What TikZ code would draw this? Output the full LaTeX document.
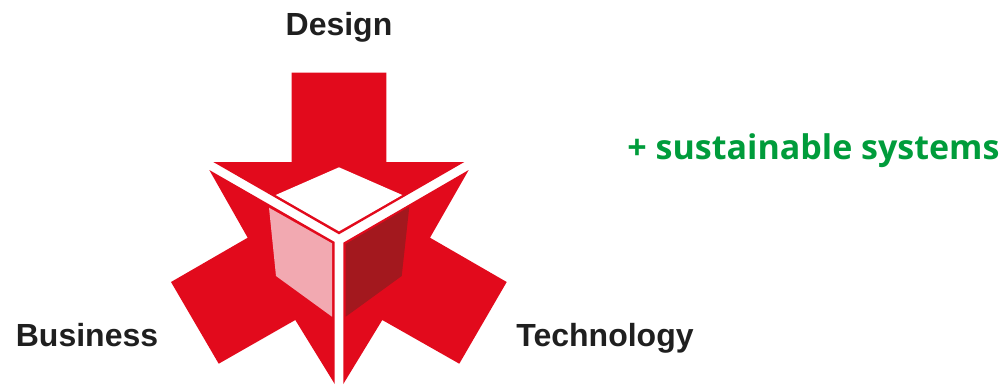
\documentclass[tikz,border=0pt]{standalone}
\usepackage{fontspec}
\setmainfont{Liberation Sans}
\newfontfamily\greenfont{Open Sans}
\definecolor{logored}{HTML}{E20A1C}
\definecolor{logolight}{HTML}{F2A9B1}
\definecolor{logodark}{HTML}{A3181E}
\definecolor{logogreen}{HTML}{009C3B}
\tikzset{
  axislabel/.style={font=\fontsize{32}{36}\selectfont\bfseries, text=black!88, inner sep=0pt, anchor=base},
  claimlabel/.style={font=\fontsize{34}{38}\selectfont\greenfont\bfseries, text=logogreen, inner sep=0pt, anchor=base}
}
\begin{document}
\begin{tikzpicture}[x=1pt, y=-1pt]
            \useasboundingbox (0,0) rectangle (1006,384);

            % Top arrow
            \fill[logored] (291.7,72.7) -- (386.3,72.7) -- (386.3,162) -- (464.3,162) -- (339,234.3) -- (213.3,162) -- (291.7,162) -- cycle;

            % Left arrow
            \fill[logored] (209.3,170) -- (334.7,242) -- (334.7,384) -- (295.3,320) -- (218.7,363.7) -- (171,282) -- (247.7,237.7) -- cycle;

            % Right arrow
            \fill[logored] (468.7,170) -- (343.3,242.7) -- (343.3,384) -- (382.3,320) -- (459.3,363.7) -- (506.7,282) -- (430,237.7) -- cycle;

            % Faces of the cube
            \fill[white] (339,167.3) -- (402.3,195) -- (339,231.3) -- (275.7,195) -- cycle;
            \fill[logolight] (269,207.7) -- (332,243.3) -- (332,316.7) -- (276,276) -- cycle;
            \fill[logodark] (409.3,206.7) -- (401.7,276) -- (345.7,316.7) -- (345.7,244) -- cycle;

            % Labels
            \node[axislabel] (design) at (339,35) {Design};
            \node[axislabel] (business) at (87,346) {Business};
            \node[axislabel] (technology) at (605,346) {Technology};
            \node[claimlabel] (claim) at (813.5,159) {+ sustainable systems};
        \end{tikzpicture}
\end{document}
